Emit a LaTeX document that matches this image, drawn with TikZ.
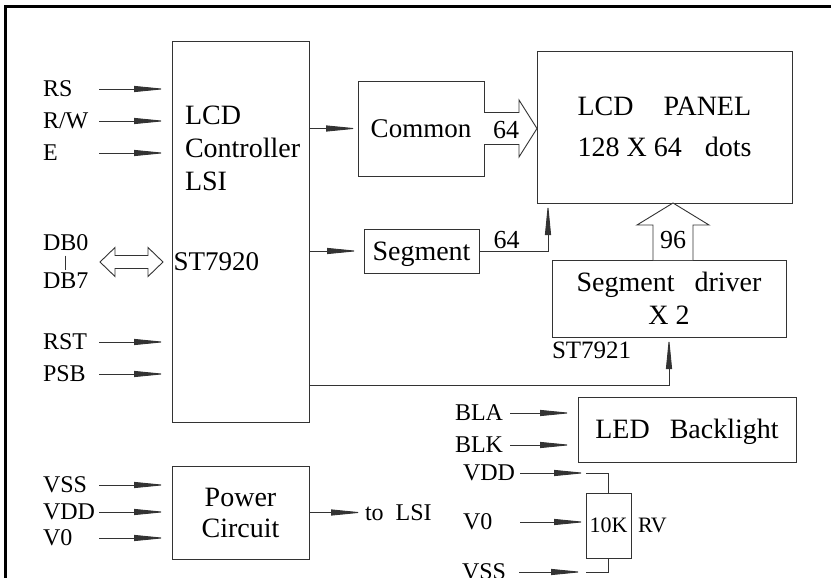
\documentclass[tikz,border=0pt]{standalone}
\usepackage{fontspec}
\setmainfont{Liberation Serif}
\usetikzlibrary{positioning, arrows.meta, calc}

\newcommand{\blkfont}{\fontsize{28}{33}\selectfont}
\newcommand{\sigfont}{\fontsize{24}{28}\selectfont}
\newcommand{\numfont}{\fontsize{26}{30}\selectfont}

\begin{document}
\begin{tikzpicture}[
  x = 1pt, y = -1pt,
  every node/.style = {inner sep=2pt, outer sep=0pt},
  box/.style = {draw=black!80, line width=0.9pt, font=\blkfont, align=center},
  lab/.style = {anchor=west, text width=#1, align=left, font=\sigfont, text height=15pt, text depth=0pt, inner xsep=2pt},
  lab/.default = 54pt,
  wire/.style = {draw=black!80, line width=0.9pt},
  sig/.style = {wire, -{Triangle[length=32pt, width=6pt]}},
  fat/.style = {wire, fill=white, line join=miter}
]
\useasboundingbox (0,0) rectangle (831,578);

% --- frame
\draw[line width=3pt] (5.5,600) -- (5.5,6.5) -- (831,6.5);

% --- controller
\node[box, minimum width=137pt, minimum height=381pt] (lsi) at (240.5,231.5) {};
\node[anchor=west, font=\blkfont, align=left] (lsiname) at (183,148) {LCD\\Controller\\LSI};
\node[anchor=west, font=\fontsize{27}{31}\selectfont] (st20) at (171.5,262) {ST7920};

\node[lab] (rs) at (41,89) {RS};
\node[lab] (rw) at (41,121) {R/W};
\node[lab] (en) at (41,153) {E};
\node[lab] (rst) at (41,342) {RST};
\node[lab] (psb) at (41,374) {PSB};
\foreach \s in {rs, rw, en, rst, psb}
  \draw[sig, shorten >=6pt] (\s.east) -- (\s.east -| lsi.west);

% --- data bus
\node[anchor=west, font=\sigfont, text height=15pt, text depth=0pt] (db0) at (41,243) {DB0};
\node[anchor=west, font=\sigfont, text height=15pt, text depth=0pt] (db7) at (41,281) {DB7};
\draw[wire, line width=1.3pt, shorten <=3pt, shorten >=2pt] (db0.south) -- (db7.north);
\coordinate (dbl) at (100,262);
\coordinate (dbr) at ($(lsi.west |- dbl)+(-9,0)$);
\draw[fat] (dbl) -- ++(15,-14.5) -- ++(0,8) -- ($(dbr)+(-15,-6.5)$) -- ++(0,-8) -- (dbr)
  -- ++(-15,14.5) -- ++(0,-8) -- ($(dbl)+(15,6.5)$) -- ++(0,8) -- cycle;

% --- common / segment
\node[box, minimum width=126pt, minimum height=95pt, font=\fontsize{27}{31}\selectfont] (com) at (421,128.5) {Common};
\node[box, minimum width=115pt, minimum height=44pt, text height=18pt, text depth=0pt] (seg) at (421.5,251) {Segment};
\draw[sig] (lsi.east |- com.west) -- (com.west);
\draw[sig, shorten >=5pt] (lsi.east |- seg.west) -- (seg.west);

% --- panel
\node[box, minimum width=255pt, minimum height=152pt, align=left] (pan) at (664.5,127) {LCD\hspace{30pt}PANEL\\[8pt]128 X 64\hspace{23pt}dots};
\draw[fat] ($(com.east)+(0,-16)$) -- ++(35,0) -- ++(0,-12.5) -- (pan.west |- com.east)
  -- ($(com.east)+(35,28.5)$) -- ++(0,-12.5) -- ($(com.east)+(0,16)$);
\node[font=\numfont] (c64) at (506,130) {64};
\draw[sig] (seg.east) -| node[pos=0.2, above, font=\numfont] (s64) {64} ($(pan.south west)+(11,0)$);

% --- segment driver
\node[box, minimum width=234pt, minimum height=77pt] (drv) at (669,298.5) {Segment\hspace{20pt}driver\\X 2};
\node[below right=3pt and -2pt of drv.south west, font=\fontsize{25}{29}\selectfont] (st21) {ST7921};
\coordinate (b96) at ($(drv.north)+(4,0)$);
\draw[fat] ($(b96)+(-20,0)$) -- ++(0,-35) -- ++(-16,0) -- (b96 |- pan.south)
  -- ($(b96)+(36,-35)$) -- ++(-16,0) -- ($(b96)+(20,0)$);
\node[font=\numfont] (d96) at (673,240) {96};
\draw[sig] (lsi.east |- 0,385) -| (drv.south);

% --- backlight
\node[box, minimum width=218pt, minimum height=65pt, text height=18pt, text depth=0pt] (led) at (687,429.5) {LED\hspace{20pt}Backlight};
\node[lab=53pt] (bla) at (453,413) {BLA};
\node[lab=53pt] (blk) at (453,445) {BLK};
\foreach \s in {bla, blk}
  \draw[sig, shorten >=6pt] (\s.east) -- (\s.east -| led.west);

% --- contrast resistor
\node[box, minimum width=45pt, minimum height=65pt, font=\fontsize{22}{26}\selectfont, inner sep=0pt] (res) at (608.5,525.5) {10K};
\node[right=5pt of res, font=\fontsize{22}{26}\selectfont] (rv) {RV};
\node[lab=55pt] (vddr) at (461,473) {VDD};
\node[lab=55pt] (vzr) at (461,522) {V0};
\node[lab=55pt] (vssr) at (460,572) {VSS};
\draw[sig] (vddr.east) -- (vddr.east -| res.west);
\draw[wire] (vddr.east -| res.west) -| (res.north);
\draw[sig] (vzr.east) -- (vzr.east -| res.west);
\draw[sig, shorten >=3pt] (vssr.east) -- (vssr.east -| res.west);
\draw[wire] (vssr.east -| res.west) -| (res.south);

% --- power
\node[box, minimum width=137pt, minimum height=93pt, font=\fontsize{28}{31}\selectfont] (pwr) at (240.5,512.5) {Power\\Circuit};
\node[lab] (vssl) at (41,485) {VSS};
\node[lab] (vddl) at (41,512) {VDD};
\node[lab] (vzl) at (41,538) {V0};
\foreach \s in {vssl, vddl, vzl}
  \draw[sig, shorten >=6pt] (\s.east) -- (\s.east -| pwr.west);
\node[right=54pt of pwr, font=\sigfont] (tolsi) {to\ \ LSI};
\draw[sig] (pwr.east) -- (pwr.east -| tolsi.west);

\end{tikzpicture}
\end{document}
